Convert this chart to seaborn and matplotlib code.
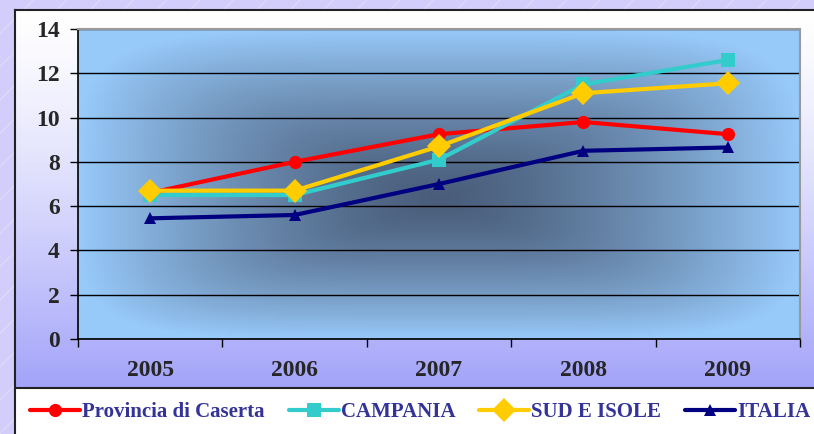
import matplotlib
matplotlib.use('Agg')

import numpy as np
import pandas as pd
import matplotlib.pyplot as plt
import seaborn as sns
from matplotlib.colors import to_rgb
from matplotlib.lines import Line2D
from matplotlib.patches import Rectangle

# data
years = ['2005', '2006', '2007', '2008', '2009']
caserta = [6.6, 8.0, 9.25, 9.8, 9.25]
campania = [6.5, 6.5, 8.1, 11.5, 12.6]
sud_isole = [6.7, 6.7, 8.7, 11.1, 11.55]
italia = [5.45, 5.6, 7.0, 8.5, 8.65]

series = ['Provincia di Caserta', 'CAMPANIA', 'SUD E ISOLE', 'ITALIA']
colors = ['#FF0000', '#33CCCC', '#FFCC00', '#000080']
markers = ['o', 's', 'D', '^']
msizes = [9.5, 9.5, 12, 9]

df = pd.DataFrame({
    'x': list(range(len(years))) * 4,
    'valore': caserta + campania + sud_isole + italia,
    'serie': np.repeat(series, len(years)),
})

sns.set_style('white')
plt.rcParams['font.family'] = ['Liberation Serif', 'DejaVu Serif']

W_PX, H_PX = 814, 434
fig = plt.figure(figsize=(W_PX / 100, H_PX / 100), dpi=100)
fig.patch.set_facecolor('#D2CDFB')
fig.patches.append(Rectangle((0, 0), 1, 1, transform=fig.transFigure,
                             facecolor='#D2CDFB', edgecolor=(1, 1, 1, 0.25),
                             hatch='/', lw=0, zorder=-10))

# chart frame with vertical white -> lavender gradient
bg = fig.add_axes([15 / W_PX, 0, 1 - 15 / W_PX, (H_PX - 10) / H_PX])
bg.set_xlim(15, W_PX)
bg.set_ylim(H_PX, 10)
bg.set_facecolor('white')
top_c, bot_c = np.array(to_rgb('#FFFFFF')), np.array(to_rgb('#A3A3FA'))
t = np.linspace(0, 1, 200)[:, None, None] ** 1.3
bg.imshow(top_c + (bot_c - top_c) * t * np.ones((1, 2, 1)),
          extent=(15, W_PX, 388, 10), aspect='auto', zorder=0)
bg.axhline(388, color='#222222', lw=1.5)
bg.set_xticks([])
bg.set_yticks([])
for s in ['right', 'bottom']:
    bg.spines[s].set_visible(False)
for s in ['left', 'top']:
    bg.spines[s].set_color('#222222')
    bg.spines[s].set_linewidth(1.5)

# plot area
L, R, T, B = 78, 800, 29, 339
ax = fig.add_axes([L / W_PX, (H_PX - B) / H_PX, (R - L) / W_PX, (B - T) / H_PX])
ax.set_xlim(-0.5, len(years) - 0.5)
ax.set_ylim(0, 14)

# centre-out rectangular gradient fill (rounded corners)
H, W = B - T, R - L
yy, xx = np.mgrid[0:H, 0:W]
cx, cy = W * 0.5, H * 0.55
dx = np.where(xx < cx, (cx - xx) / cx, (xx - cx) / (W - cx))
dy = np.where(yy < cy, (cy - yy) / cy, (yy - cy) / (H - cy))
d = np.clip((dx ** 5 + dy ** 5) ** 0.2, 0, 1) ** 1.4
dark, light = np.array(to_rgb('#4A5E7B')), np.array(to_rgb('#98CAFA'))
grad = dark + (light - dark) * d[..., None]
ax.imshow(grad, extent=(-0.5, len(years) - 0.5, 0, 14), aspect='auto', zorder=0)

for name, c, m, ms in zip(series, colors, markers, msizes):
    sns.lineplot(data=df[df['serie'] == name], x='x', y='valore', ax=ax,
                 color=c, marker=m, markersize=ms, markeredgewidth=0,
                 linewidth=3, legend=False, zorder=3)

ax.set_axisbelow(True)
ax.set_yticks(range(0, 15, 2))
ax.yaxis.grid(True, color='black', lw=1)
ax.xaxis.grid(False)
ax.set_xticks(np.arange(-0.5, len(years), 1))
ax.set_xticklabels([])
ax.set_xticks(range(len(years)), minor=True)
ax.set_xticklabels(years, minor=True)
ax.tick_params(axis='x', which='major', length=6, width=1, color='black',
               direction='out', bottom=True)
ax.tick_params(axis='x', which='minor', length=0, pad=15, labelsize=17)
ax.tick_params(axis='y', length=6, width=1, color='black', direction='out',
               left=True, pad=7, labelsize=17)
for lab in ax.get_xticklabels(minor=True) + ax.get_yticklabels():
    lab.set_fontweight('bold')
ax.set_xlabel('')
ax.set_ylabel('')
for s in ['left', 'bottom']:
    ax.spines[s].set_color('black')
    ax.spines[s].set_linewidth(1.2)
for s in ['top', 'right']:
    ax.spines[s].set_color('#999999')
    ax.spines[s].set_linewidth(1.5)

handles = [Line2D([], [], color=c, lw=3, marker=m, markersize=ms, markeredgewidth=0)
           for c, m, ms in zip(colors, markers, msizes)]
fig.legend(handles, series, loc='center left',
           bbox_to_anchor=(30 / W_PX, (H_PX - 412) / H_PX),
           ncol=4, frameon=False, borderpad=0, borderaxespad=0,
           handlelength=2.4, handletextpad=0.1, columnspacing=1.15,
           labelcolor='#333399', prop={'family': 'Liberation Serif',
                                       'weight': 'bold', 'size': 15})

fig.savefig('out.png', dpi=100)
